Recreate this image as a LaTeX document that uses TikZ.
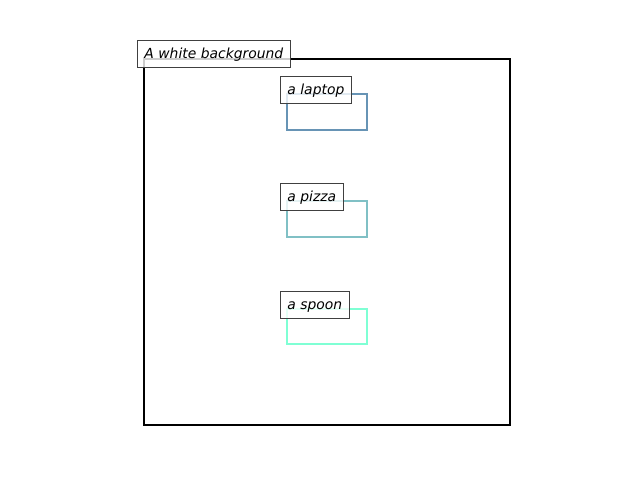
\documentclass[tikz,border=0pt]{standalone}
\usepackage{fontspec}
\setmainfont{DejaVu Sans}
\usetikzlibrary{positioning}
\definecolor{LaptopBlue}{HTML}{6794B5}
\definecolor{PizzaTeal}{HTML}{80C0C5}
\definecolor{SpoonAqua}{HTML}{7FFFD4}
\definecolor{LabelGray}{HTML}{404040}

\begin{document}
\begin{tikzpicture}[x=0.72pt,y=-0.72pt,
    objbox/.style={line width=1.7pt},
    tag/.style={draw=LabelGray,fill=white,fill opacity=0.8,text opacity=1,
      font=\itshape\fontsize{10}{12}\selectfont,anchor=west,
      text height=8.5pt,text depth=1.5pt,
      inner xsep=5pt,minimum height=20pt,line width=0.75pt}]

  \useasboundingbox (0,0) rectangle (640,480);

  % the image frame
  \coordinate (FrameMin) at (144,59);
  \coordinate (FrameMax) at (510,425);
  \draw [black, line width=1.6pt] (FrameMin) rectangle (FrameMax);

  % the detected objects
  \draw [objbox, LaptopBlue] (287,94) rectangle (367,130);
  \draw [objbox, PizzaTeal]  (287,201) rectangle (367,237);
  \draw [objbox, SpoonAqua]  (287,309) rectangle (367,344);

  % labels on top
  \node[tag] (background) at (137,54)  {A white background};
  \node[tag] (laptop)     at (280,90)  {a laptop};
  \node[tag] (pizza)      at (280,197) {a pizza};
  \node[tag] (spoon)      at (280,305) {a spoon};

\end{tikzpicture}
\end{document}
